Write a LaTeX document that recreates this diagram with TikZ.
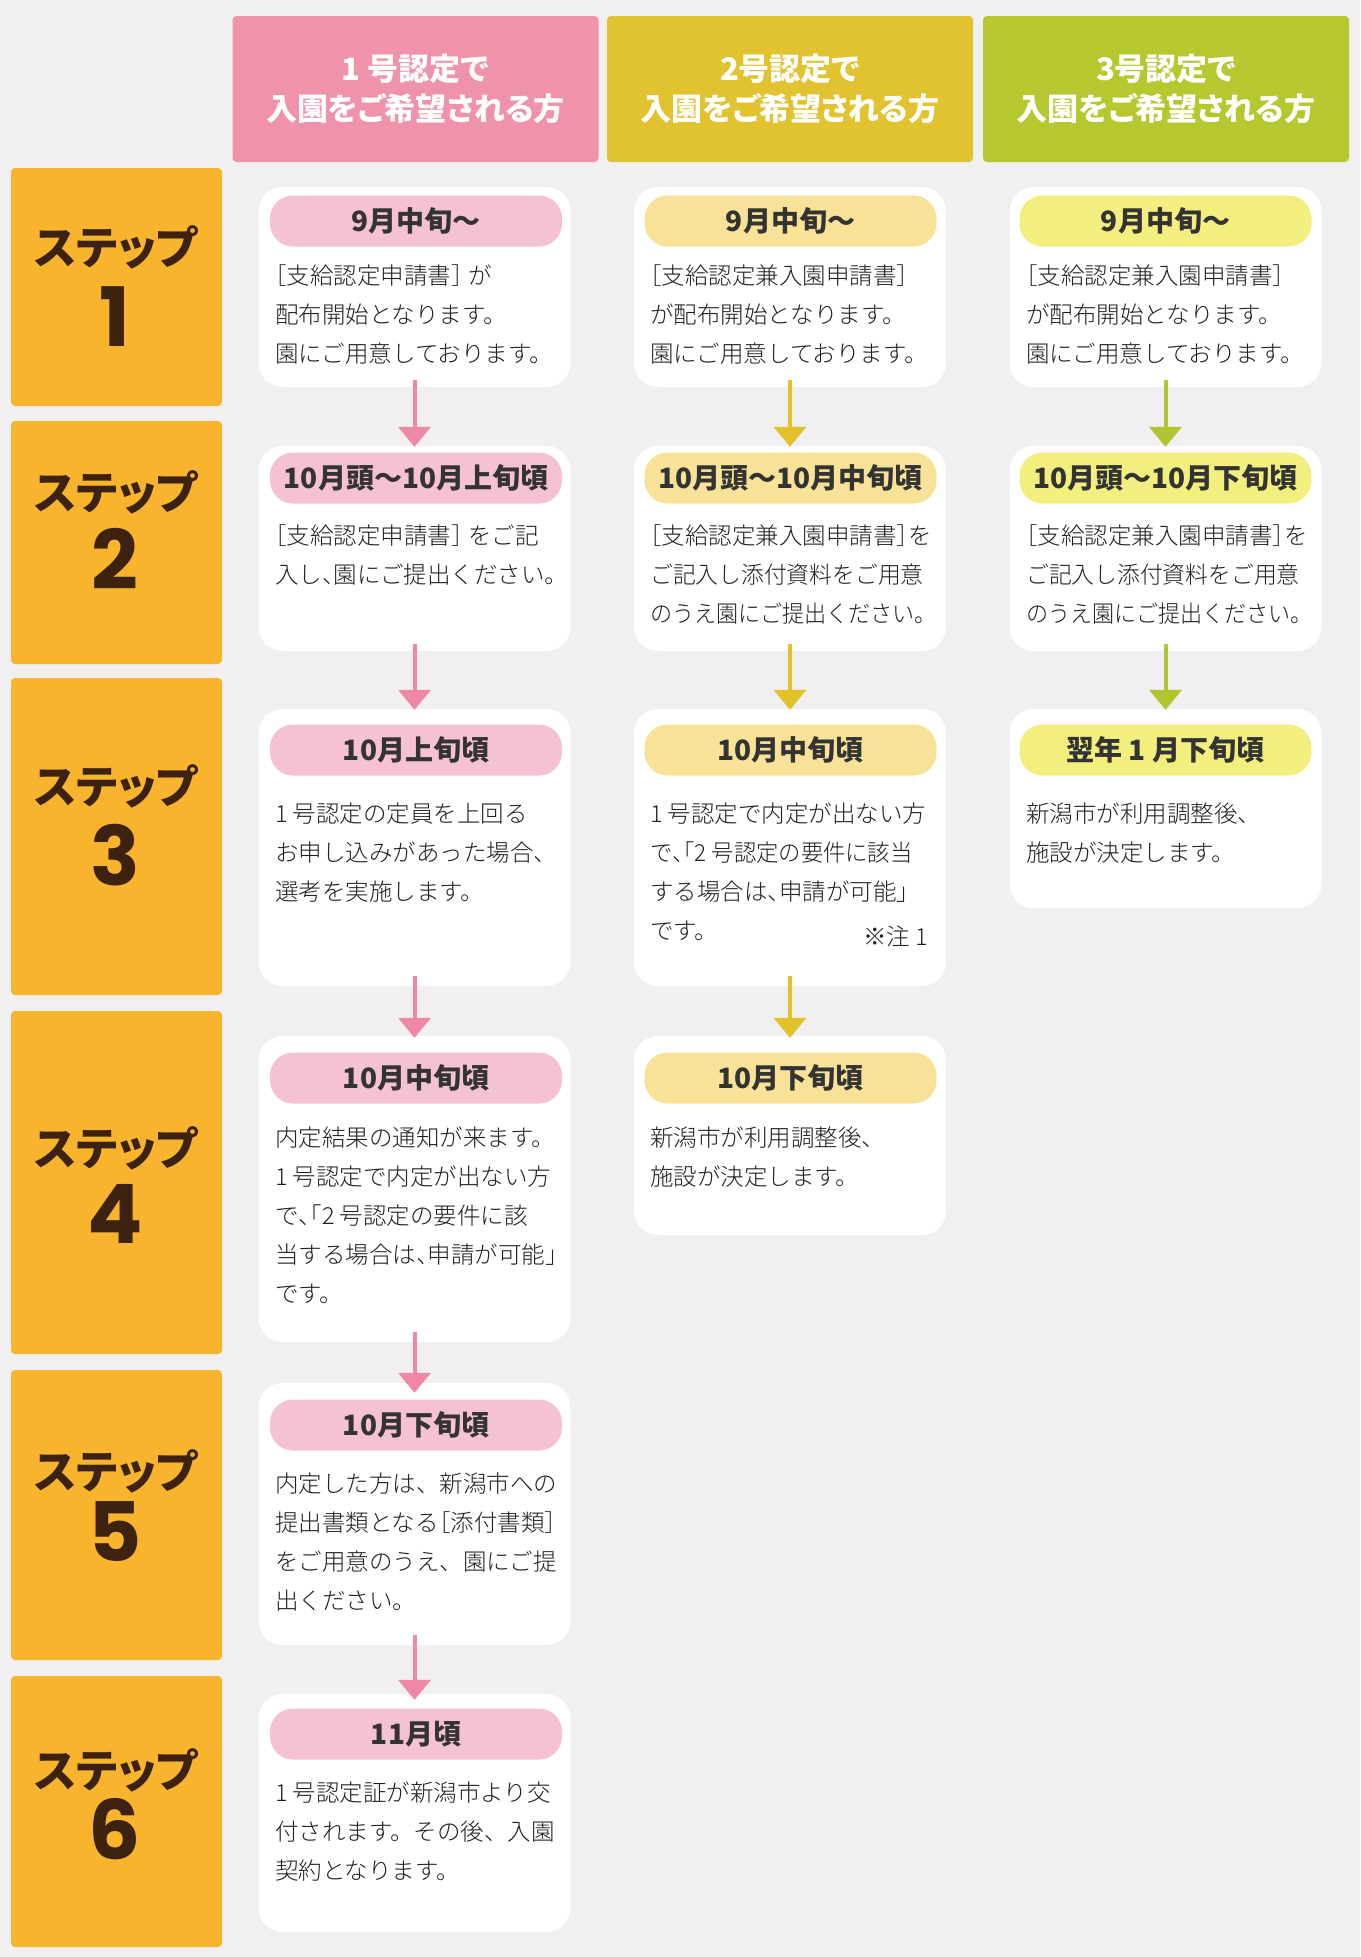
\documentclass[tikz,border=0pt]{standalone}
\usepackage{fontspec}
\usepackage{graphicx}
\usetikzlibrary{arrows.meta}
\newfontfamily\jp{Noto Sans CJK JP}[RawFeature=+palt]
\newfontfamily\jpl{Noto Sans CJK JP Light}
\newfontfamily\jph{Noto Sans CJK JP Light}[RawFeature=+halt]
\newfontfamily\numsans{Poppins}
\newcommand\jlb{{\jph ［}}
\newcommand\jrb{{\jph ］}}
\newcommand\jlq{{\jph 「}}
\newcommand\jrq{{\jph 」}}
\newcommand\jtc{{\jph 、}}
\newcommand\narrow[2]{\scalebox{#1}[1]{#2}}
\definecolor{bg}{HTML}{F1EFEF}
\definecolor{hA}{HTML}{EF93AB}
\definecolor{hB}{HTML}{E1C22F}
\definecolor{hC}{HTML}{B7C72F}
\definecolor{stepc}{HTML}{F7B42C}
\definecolor{steptxt}{HTML}{3E2210}
\definecolor{pA}{HTML}{F5C2D2}
\definecolor{pB}{HTML}{F8E298}
\definecolor{pC}{HTML}{F3EF7F}
\definecolor{aA}{HTML}{EE88A6}
\definecolor{aB}{HTML}{E2C22A}
\definecolor{aC}{HTML}{B2C530}
\definecolor{txt}{HTML}{333333}
\definecolor{btxt}{HTML}{231F20}
\begin{document}
\begin{tikzpicture}[x=1pt,y=-1pt,
  card/.style={fill=white, rounded corners=24pt, inner sep=0pt, minimum width=312pt},
  pill/.style={rounded corners=23pt, minimum width=292pt, minimum height=51pt, inner sep=0pt, text=txt, font=\jp\bfseries\fontsize{28pt}{30pt}\selectfont},
  body/.style={anchor=north west, inner sep=0pt, align=left, text=btxt, font=\jpl\fontsize{23.5pt}{39pt}\selectfont},
  head/.style={rounded corners=4pt, minimum width=366pt, minimum height=146pt, inner sep=0pt, text=white, align=center, font=\jp\bfseries\fontsize{31pt}{40pt}\selectfont},
  stepbox/.style={fill=stepc, rounded corners=4pt, minimum width=211pt, inner sep=0pt},
  steplab/.style={inner sep=0pt, text=steptxt, font=\jp\bfseries\fontsize{45pt}{45pt}\selectfont},
  stepnum/.style={inner sep=0pt, text=steptxt, font=\numsans\bfseries\fontsize{82pt}{82pt}\selectfont},
  arr/.style={line width=4pt, -{Triangle[width=32pt,length=20pt]}},
  note/.style={anchor=east, inner sep=0pt, text=btxt, font=\jpl\fontsize{23.5pt}{26pt}\selectfont}
]
\fill[bg] (0,0) rectangle (1360,1957);
\useasboundingbox (0,0) rectangle (1360,1957);

% headers
\node[head, fill=hA] (hd1) at (415.5,89) {1 号認定で\\入園をご希望される方};
\node[head, fill=hB] (hd2) at (790,89) {2号認定で\\入園をご希望される方};
\node[head, fill=hC] (hd3) at (1166,89) {3号認定で\\入園をご希望される方};

% step boxes
\node[stepbox, minimum height=238pt] (s1) at (116.5,287) {};
\node[stepbox, minimum height=243pt] (s2) at (116.5,542.5) {};
\node[stepbox, minimum height=317pt] (s3) at (116.5,836.5) {};
\node[stepbox, minimum height=343pt] (s4) at (116.5,1182.5) {};
\node[stepbox, minimum height=290pt] (s5) at (116.5,1515) {};
\node[stepbox, minimum height=271pt] (s6) at (116.5,1811.5) {};
\node[steplab] (s1a) at (116,247) {ステップ};
\node[stepnum] (s1n) at (115,317) {1};
\node[steplab] (s2a) at (116,492) {ステップ};
\node[stepnum] (s2n) at (115,559) {2};
\node[steplab] (s3a) at (116,786) {ステップ};
\node[stepnum] (s3n) at (115,855) {3};
\node[steplab] (s4a) at (116,1148) {ステップ};
\node[stepnum] (s4n) at (115,1214) {4};
\node[steplab] (s5a) at (116,1471) {ステップ};
\node[stepnum] (s5n) at (115,1532) {5};
\node[steplab] (s6a) at (116,1770) {ステップ};
\node[stepnum] (s6n) at (115,1829) {6};

% cards
\node[card, minimum height=200pt] (c1r1) at (414.5,287) {};
\node[card, minimum height=200pt] (c2r1) at (790,287) {};
\node[card, minimum height=200pt] (c3r1) at (1165.5,287) {};
\node[card, minimum height=205pt] (c1r2) at (414.5,548.5) {};
\node[card, minimum height=205pt] (c2r2) at (790,548.5) {};
\node[card, minimum height=205pt] (c3r2) at (1165.5,548.5) {};
\node[card, minimum height=277pt] (c1r3) at (414.5,847.5) {};
\node[card, minimum height=277pt] (c2r3) at (790,847.5) {};
\node[card, minimum height=199pt] (c3r3) at (1165.5,808.5) {};
\node[card, minimum height=306pt] (c1r4) at (414.5,1189) {};
\node[card, minimum height=199pt] (c2r4) at (790,1135.5) {};
\node[card, minimum height=262pt] (c1r5) at (414.5,1514) {};
\node[card, minimum height=238pt] (c1r6) at (414.5,1813) {};

% pills
\node[pill, fill=pA] (p1r1) at (416,221) {9月中旬～};
\node[pill, fill=pB] (p2r1) at (790.5,221) {9月中旬～};
\node[pill, fill=pC] (p3r1) at (1165.5,221) {9月中旬～};
\node[pill, fill=pA] (p1r2) at (416,478) {10月頭～10月上旬頃};
\node[pill, fill=pB] (p2r2) at (790.5,478) {10月頭～10月中旬頃};
\node[pill, fill=pC] (p3r2) at (1165.5,478) {10月頭～10月下旬頃};
\node[pill, fill=pA] (p1r3) at (416,750) {10月上旬頃};
\node[pill, fill=pB] (p2r3) at (790.5,750) {10月中旬頃};
\node[pill, fill=pC] (p3r3) at (1165.5,750) {翌年 1 月下旬頃};
\node[pill, fill=pA] (p1r4) at (416,1078) {10月中旬頃};
\node[pill, fill=pB] (p2r4) at (790.5,1078) {10月下旬頃};
\node[pill, fill=pA] (p1r5) at (416,1425) {10月下旬頃};
\node[pill, fill=pA] (p1r6) at (416,1734) {11月頃};

% body texts
\node[body] (t1r1) at (275,263) {\rule{0pt}{21pt}\jlb 支給認定申請書\jrb\ が\\配布開始となります。\\園にご用意しております。};
\node[body] (t2r1) at (650,263) {\rule{0pt}{21pt}\jlb 支給認定兼入園申請書\jrb\\が配布開始となります。\\園にご用意しております。};
\node[body] (t3r1) at (1026,263) {\rule{0pt}{21pt}\jlb 支給認定兼入園申請書\jrb\\が配布開始となります。\\園にご用意しております。};
\node[body] (t1r2) at (275,523) {\rule{0pt}{21pt}\jlb 支給認定申請書\jrb\ をご記\\入し\jtc 園にご提出ください。};
\node[body] (t2r2) at (650,523) {\rule{0pt}{21pt}\jlb 支給認定兼入園申請書\jrb を\\\narrow{0.97}{ご記入し添付資料をご用意}\\\narrow{0.94}{のうえ園にご提出ください。}};
\node[body] (t3r2) at (1026,523) {\rule{0pt}{21pt}\jlb 支給認定兼入園申請書\jrb を\\\narrow{0.97}{ご記入し添付資料をご用意}\\\narrow{0.94}{のうえ園にご提出ください。}};
\node[body] (t1r3) at (275,801) {\rule{0pt}{21pt}1 号認定の定員を上回る\\お申し込みがあった場合、\\選考を実施します。};
\node[body] (t2r3) at (650,801) {\rule{0pt}{21pt}1 号認定で内定が出ない方\\\narrow{0.95}{で\jtc\jlq 2 号認定の要件に該当}\\する場合は\jtc 申請が可能\jrq\\です。};
\node[note] (n2r3) at (928,936) {※注 1};
\node[body] (t3r3) at (1026,801) {\rule{0pt}{21pt}新潟市が利用調整後、\\施設が決定します。};
\node[body] (t1r4) at (275,1125) {\rule{0pt}{21pt}内定結果の通知が来ます。\\1 号認定で内定が出ない方\\で\jtc\jlq 2 号認定の要件に該\\当する場合は\jtc 申請が可能\jrq\\です。};
\node[body] (t2r4) at (650,1125) {\rule{0pt}{21pt}新潟市が利用調整後、\\施設が決定します。};
\node[body] (t1r5) at (275,1471) {\rule{0pt}{21pt}内定した方は、新潟市への\\提出書類となる\jlb 添付書類\jrb\\をご用意のうえ、園にご提\\出ください。};
\node[body] (t1r6) at (275,1780) {\rule{0pt}{21pt}1 号認定証が新潟市より交\\付されます。その後、入園\\契約となります。};

% arrows
\draw[arr, aA] ([yshift=7pt]c1r1.south) -- ([yshift=-1pt]c1r2.north);
\draw[arr, aA] ([yshift=7pt]c1r2.south) -- ([yshift=-1pt]c1r3.north);
\draw[arr, aA] ([yshift=10pt]c1r3.south) -- ([yshift=-2pt]c1r4.north);
\draw[arr, aA] ([yshift=10pt]c1r4.south) -- ([yshift=-10pt]c1r5.north);
\draw[arr, aA] ([yshift=10pt]c1r5.south) -- ([yshift=-6pt]c1r6.north);
\draw[arr, aB] ([yshift=7pt]c2r1.south) -- ([yshift=-1pt]c2r2.north);
\draw[arr, aB] ([yshift=7pt]c2r2.south) -- ([yshift=-1pt]c2r3.north);
\draw[arr, aB] ([yshift=10pt]c2r3.south) -- ([yshift=-2pt]c2r4.north);
\draw[arr, aC] ([yshift=7pt]c3r1.south) -- ([yshift=-1pt]c3r2.north);
\draw[arr, aC] ([yshift=7pt]c3r2.south) -- ([yshift=-1pt]c3r3.north);
\end{tikzpicture}
\end{document}
